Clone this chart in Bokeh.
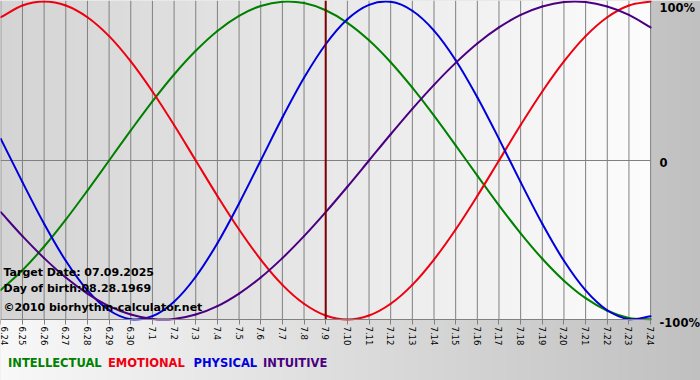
import math
import numpy as np
from bokeh.plotting import figure
from bokeh.models import Range1d, LinearAxis, FixedTicker, Label, ColumnDataSource
from bokeh.core.properties import value
from bokeh.embed import file_html
from bokeh.resources import INLINE

# ---------------- data ----------------
dates = ["6.24", "6.25", "6.26", "6.27", "6.28", "6.29", "6.30",
         "7.1", "7.2", "7.3", "7.4", "7.5", "7.6", "7.7", "7.8", "7.9",
         "7.10", "7.11", "7.12", "7.13", "7.14", "7.15", "7.16", "7.17",
         "7.18", "7.19", "7.20", "7.21", "7.22", "7.23", "7.24"]
day_index = list(range(len(dates)))

intellectual = [-0.815, -0.690, -0.541, -0.372, -0.189, 0.000, 0.189, 0.372,
                0.541, 0.690, 0.815, 0.910, 0.972, 0.999, 0.990, 0.945,
                0.866, 0.756, 0.618, 0.458, 0.282, 0.095, -0.095, -0.282,
                -0.458, -0.618, -0.756, -0.866, -0.945, -0.990, -0.999]
emotional = [0.901, 0.975, 1.000, 0.975, 0.901, 0.782, 0.623, 0.434,
             0.223, 0.000, -0.223, -0.434, -0.623, -0.782, -0.901, -0.975,
             -1.000, -0.975, -0.901, -0.782, -0.623, -0.434, -0.223, 0.000,
             0.223, 0.434, 0.623, 0.782, 0.901, 0.975, 1.000]
physical = [0.136, -0.136, -0.398, -0.631, -0.817, -0.942, -0.998, -0.979,
            -0.888, -0.731, -0.520, -0.270, 0.000, 0.270, 0.520, 0.731,
            0.888, 0.979, 0.998, 0.942, 0.817, 0.631, 0.398, 0.136,
            -0.136, -0.398, -0.631, -0.817, -0.942, -0.998, -0.979]
intuitive = [-0.325, -0.476, -0.614, -0.736, -0.837, -0.916, -0.969, -0.997,
             -0.997, -0.969, -0.916, -0.837, -0.736, -0.614, -0.476, -0.325,
             -0.165, 0.000, 0.165, 0.325, 0.476, 0.614, 0.736, 0.837,
             0.916, 0.969, 0.997, 0.997, 0.969, 0.916, 0.837]

target_day = 15  # 7.9
right_ticks = [1, 0, -1]
right_labels = ["100%", "0", "-100%"]
legend_names = ["INTELLECTUAL", "EMOTIONAL", "PHYSICAL", "INTUITIVE"]
info_lines = ["Target Date: 07.09.2025", "Day of birth:08.28.1969",
              "\u00a92010 biorhythm-calculator.net"]

# ---------------- styling / layout ----------------
W, H = 700, 380
PX_PER_DAY = 21.66
X0_PX = 0.3
Y0_PX = 160.0
PX_PER_UNIT = 159.0
FONT = "DejaVu Sans"

colors = ["#008000", "#ee0010", "#0000dd", "#4b0082"]


def dx(px):
    return (px - X0_PX) / PX_PER_DAY


def vy(py):
    return (Y0_PX - py) / PX_PER_UNIT


x_start, x_end = dx(0), dx(W)
y_start, y_end = vy(H), vy(0)
last_day = day_index[-1]

p = figure(width=W, height=H, output_backend="svg", toolbar_location=None,
           x_range=Range1d(x_start, x_end), y_range=Range1d(y_start, y_end),
           x_axis_location=None, y_axis_location=None, min_border=0)
p.outline_line_color = None
p.grid.visible = False
p.background_fill_color = "#e0e0e0"
p.border_fill_color = "#e0e0e0"


def hgrad(c0, c1, n=256):
    arr = np.zeros((1, n), dtype=np.uint32)
    view = arr.view(dtype=np.uint8).reshape((1, n, 4))
    g = np.linspace(c0, c1, n).round().astype(np.uint8)
    view[0, :, 0] = g
    view[0, :, 1] = g
    view[0, :, 2] = g
    view[0, :, 3] = 255
    return arr


# outer background gradient
p.image_rgba(image=[hgrad(0xf8, 0xc0)], x=x_start, y=y_start,
             dw=x_end - x_start, dh=y_end - y_start, level="image")
# plot area gradient
p.image_rgba(image=[hgrad(0xd4, 0xfc)], x=x_start, y=-1,
             dw=last_day - x_start, dh=y_end + 1, level="image")

# vertical day lines
p.segment(x0=day_index, y0=[-1] * len(day_index), x1=day_index,
          y1=[y_end] * len(day_index), line_color="#808080", line_width=1)
# zero line
p.segment(x0=[x_start], y0=[0], x1=[last_day], y1=[0],
          line_color="#808080", line_width=1)

# bottom axis
xaxis = LinearAxis(ticker=FixedTicker(ticks=day_index, minor_ticks=[]),
                   fixed_location=-1,
                   major_label_overrides={i: d for i, d in zip(day_index, dates)},
                   major_label_orientation=-math.pi / 2,
                   axis_line_color="#808080", major_tick_line_color="#808080",
                   major_tick_out=5, major_tick_in=0, minor_tick_out=0,
                   major_label_standoff=2,
                   major_label_text_font=FONT,
                   major_label_text_font_size="8.5px",
                   major_label_text_color="black",
                   bounds=(0, last_day))
p.add_layout(xaxis, "below")


# curves: smooth (Catmull-Rom) Bezier rendering through the daily values
def smooth_segments(xs, ys):
    n = len(xs)
    X = np.asarray(xs, dtype=float)
    Y = np.asarray(ys, dtype=float)
    Xp = np.concatenate([[2 * X[0] - X[1]], X, [2 * X[-1] - X[-2]]])
    Yp = np.concatenate([[2 * Y[0] - Y[1]], Y, [2 * Y[-1] - Y[-2]]])
    x0 = Xp[1:n]; y0 = Yp[1:n]
    x1 = Xp[2:n + 1]; y1 = Yp[2:n + 1]
    cx0 = x0 + (Xp[2:n + 1] - Xp[0:n - 1]) / 6
    cy0 = y0 + (Yp[2:n + 1] - Yp[0:n - 1]) / 6
    cx1 = x1 - (Xp[3:n + 2] - Xp[1:n]) / 6
    cy1 = y1 - (Yp[3:n + 2] - Yp[1:n]) / 6
    return dict(x0=x0, y0=y0, x1=x1, y1=y1, cx0=cx0, cy0=cy0, cx1=cx1, cy1=cy1)


for series, c in zip([intellectual, emotional, physical, intuitive], colors):
    src = ColumnDataSource(smooth_segments(day_index, series))
    p.bezier(x0="x0", y0="y0", x1="x1", y1="y1", cx0="cx0", cy0="cy0",
             cx1="cx1", cy1="cy1", source=src, line_color=c, line_width=2,
             line_cap="round")

# target date marker
p.segment(x0=[target_day], y0=[-1], x1=[target_day], y1=[y_end],
          line_color="#800000", line_width=2)

# right tick labels
rsrc = ColumnDataSource(dict(x=[last_day] * 3, y=right_ticks, t=right_labels,
                             yoff=[6.5, 2.0, 3.0]))
p.text(x="x", y="y", text="t", source=rsrc, x_offset=9, y_offset="yoff",
       text_font=value(FONT), text_font_size="11.5px", text_font_style="bold",
       text_color="black", text_baseline="middle", text_align="left")

# info texts
for txt, py in zip(info_lines, [271.5, 287.5, 306.5]):
    p.add_layout(Label(x=dx(3), y=vy(py), text=txt, text_font=FONT,
                       text_font_size="11px", text_font_style="bold",
                       text_color="black", text_baseline="middle"))

# legend texts
for name, c, px in zip(legend_names, colors, [7.5, 107.5, 193, 262.5]):
    p.add_layout(Label(x=dx(px), y=vy(362), text=name, text_font=FONT,
                       text_font_size="11.5px", text_font_style="bold",
                       text_color=c, text_baseline="middle"))

open("out.html", "w").write(file_html(p, INLINE))
